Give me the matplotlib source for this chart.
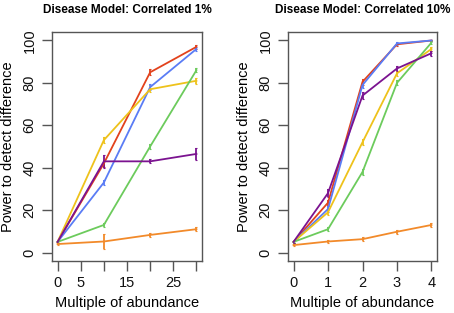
import matplotlib
matplotlib.use("Agg")
import matplotlib.pyplot as plt

plt.rcParams['font.family'] = ['Liberation Sans', 'DejaVu Sans']

# ---- data ----
x_left = [0, 10, 20, 30]
x_right = [0, 1, 2, 3, 4]
left_xticks = [0, 5, 10, 15, 20, 25, 30]
left_xticklabels = ["0", "5", "", "15", "", "25", ""]
right_xticks = [0, 1, 2, 3, 4]
yticks = [0, 20, 40, 60, 80, 100]

series_names = ["red", "blue", "yellow", "green", "purple", "orange"]
series_colors = ["#E2421C", "#5A7CF5", "#EEC21B", "#6CCB5C", "#7B1390", "#F28A2A"]

left_vals = {
    "red":    [5, 42, 85, 97],
    "blue":   [5, 33, 78, 96],
    "yellow": [5, 53, 77, 81],
    "green":  [5, 13, 50, 86],
    "purple": [5, 43, 43, 46.5],
    "orange": [4, 5.2, 8.3, 11],
}
left_err = {
    "red":    [0.5, 1.5, 1.5, 1],
    "blue":   [0.5, 1, 1.5, 1],
    "yellow": [0.5, 1.5, 1.5, 1.5],
    "green":  [0.5, 1, 1, 1],
    "purple": [0.5, 3, 1, 3],
    "orange": [0.5, 3.5, 1, 1],
}
right_vals = {
    "red":    [5, 23.5, 80.5, 98.2, 100],
    "blue":   [5, 20.5, 79, 98.6, 100],
    "yellow": [5, 19, 52, 84.5, 96],
    "green":  [5, 11, 38, 80, 99],
    "purple": [5, 28, 74, 86.8, 94],
    "orange": [3.5, 5.2, 6.3, 9.8, 13],
}
right_err = {
    "red":    [0.5, 1.5, 1.5, 0.8, 0.3],
    "blue":   [0.5, 1.5, 1.5, 0.8, 0.3],
    "yellow": [0.5, 1.5, 1.5, 1.2, 1],
    "green":  [0.5, 1, 1.5, 1.2, 0.8],
    "purple": [0.5, 2, 1.5, 1.2, 1.2],
    "orange": [0.5, 0.8, 1, 1, 1],
}

titles = ["Disease Model: Correlated 1%", "Disease Model: Correlated 10%"]
xlabel = "Multiple of abundance"
ylabel = "Power to detect difference"

fig = plt.figure(figsize=(4.54, 3.13), dpi=100)
W, H = 454, 313

def make_ax(l, r, t, b):
    return fig.add_axes([l / W, (H - b) / H, (r - l) / W, (b - t) / H])

axL = make_ax(52, 202, 32, 261)
axR = make_ax(288, 437, 32, 261)

frame = "#555555"
for ax, xs, vals, errs, xticks, xtl, xlim, title in [
    (axL, x_left, left_vals, left_err, left_xticks, left_xticklabels, (-1.2, 31.2), titles[0]),
    (axR, x_right, right_vals, right_err, right_xticks, [str(v) for v in right_xticks], (-0.16, 4.16), titles[1]),
]:
    for name, col in zip(series_names, series_colors):
        ax.errorbar(xs, vals[name], yerr=errs[name], color=col, lw=1.3,
                    elinewidth=1.3, capsize=1.0, capthick=0.8)
    ax.set_xlim(*xlim)
    ax.set_ylim(-4, 104)
    ax.set_xticks(xticks)
    ax.set_xticklabels(xtl)
    ax.set_yticks(yticks)
    ax.set_yticklabels([str(v) for v in yticks], rotation=90, va="center")
    ax.tick_params(axis="both", direction="out", length=7, width=1, color=frame,
                   labelsize=10.5, pad=4, labelcolor="#111111")
    for sp in ax.spines.values():
        sp.set_color(frame)
        sp.set_linewidth(1)
    ax.set_xlabel(xlabel, fontsize=10.5)
    ax.set_ylabel(ylabel, fontsize=10.5)
    ax.xaxis.set_label_coords(0.5, -0.152)
    ax.yaxis.set_label_coords(-0.245, 0.5)
    ax.set_title(title, fontsize=8.5, fontweight="bold", pad=14)

fig.savefig("out.png", dpi=100)
